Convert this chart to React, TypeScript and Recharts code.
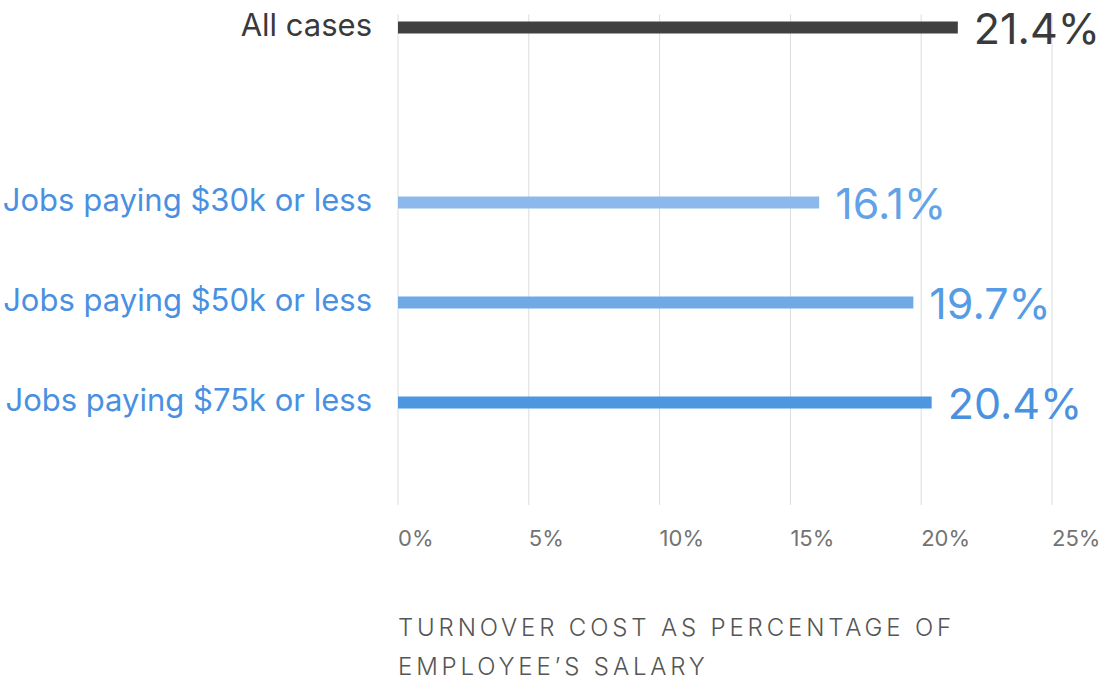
import { BarChart, Bar, XAxis, YAxis, CartesianGrid, Cell, LabelList } from "recharts";

const categories = [
  "All cases",
  "Jobs paying $30k or less",
  "Jobs paying $50k or less",
  "Jobs paying $75k or less",
];
const values = [21.4, 16.1, 19.7, 20.4];
const xTicks = [0, 5, 10, 15, 20, 25];
const axisTitle = ["TURNOVER COST AS PERCENTAGE OF", "EMPLOYEE\u2019S SALARY"];

const barColors = ["#404040", "#8bb9ec", "#6faae7", "#4d96e0"];
const valueColors = ["#3a3a3a", "#62a3e7", "#559ce4", "#4a92e0"];
const nameColors = ["#3a3a3a", "#4a90e2", "#4a90e2", "#4a90e2"];

// empty rows before each bar so the groups sit apart like the original
const spacerRows = [0, 6, 3, 3];
const trailingRows = 3;

const FONT = "Inter, 'Noto Sans', sans-serif";

type Row = { name: string; value: number | null; idx: number };

const rows: Row[] = [];
categories.forEach((name, i) => {
  for (let k = 0; k < spacerRows[i]; k++) rows.push({ name: "", value: null, idx: -1 });
  rows.push({ name, value: values[i], idx: i });
});
for (let k = 0; k < trailingRows; k++) rows.push({ name: "", value: null, idx: -1 });

function CategoryTick(props: any) {
  const { x, y, payload } = props;
  const i = categories.indexOf(payload?.value);
  if (i < 0) return null;
  return (
    <text x={x} y={y} dy={9} textAnchor="end" fontSize={31} fontFamily={FONT} fill={nameColors[i]}>
      {payload.value}
    </text>
  );
}

function PercentTick(props: any) {
  const { x, y, payload } = props;
  return (
    <text x={x} y={y} dy={39} textAnchor="start" fontSize={22} fontWeight={400} fontFamily={FONT} fill="#737373">
      {`${payload.value}%`}
    </text>
  );
}

function ValueLabel(props: any) {
  const { x, y, width, height, value } = props;
  if (value == null) return null;
  const i = values.indexOf(Number(value));
  return (
    <text
      x={x + width + 16}
      y={y + height / 2}
      dy={16}
      fontSize={43}
      fontWeight={400}
      fontFamily={FONT}
      fill={valueColors[i] ?? "#4a92e0"}
    >
      {`${value}%`}
    </text>
  );
}

function AxisTitle(props: any) {
  const vb = props.viewBox || {};
  const x = vb.x ?? 398;
  const y = vb.y ?? 505;
  return (
    <text x={x} y={y} fontSize={24} fontWeight={300} fontFamily={FONT} fill="#555" letterSpacing={3.85}>
      {axisTitle.map((line, i) => (
        <tspan key={line} x={x} y={y + 131 + i * 39}>
          {line}
        </tspan>
      ))}
    </text>
  );
}

export default function App() {
  return (
    <div style={{ width: 1104, height: 682, fontFamily: FONT }}>
      <style>{"body{margin:0;overflow:hidden;background:#fff}"}</style>
      <BarChart
        width={1104}
        height={682}
        data={rows}
        layout="vertical"
        margin={{ top: 14.5, right: 52, left: 0, bottom: 0 }}
      >
        <CartesianGrid horizontal={false} stroke="#dcdcdc" />
        <XAxis
          type="number"
          domain={[0, 25]}
          ticks={xTicks}
          tickLine={false}
          axisLine={false}
          tickSize={0}
          height={177}
          tick={<PercentTick />}
          label={{ content: <AxisTitle /> }}
        />
        <YAxis
          type="category"
          dataKey="name"
          width={398}
          interval={0}
          tickLine={false}
          axisLine={false}
          tickSize={0}
          tickMargin={26}
          padding={{ top: 0, bottom: 15.5 }}
          tick={<CategoryTick />}
        />
        <Bar dataKey="value" barSize={12} isAnimationActive={false}>
          {rows.map((r, i) => (
            <Cell key={i} fill={r.idx >= 0 ? barColors[r.idx] : "none"} />
          ))}
          <LabelList dataKey="value" content={<ValueLabel />} />
        </Bar>
      </BarChart>
    </div>
  );
}
